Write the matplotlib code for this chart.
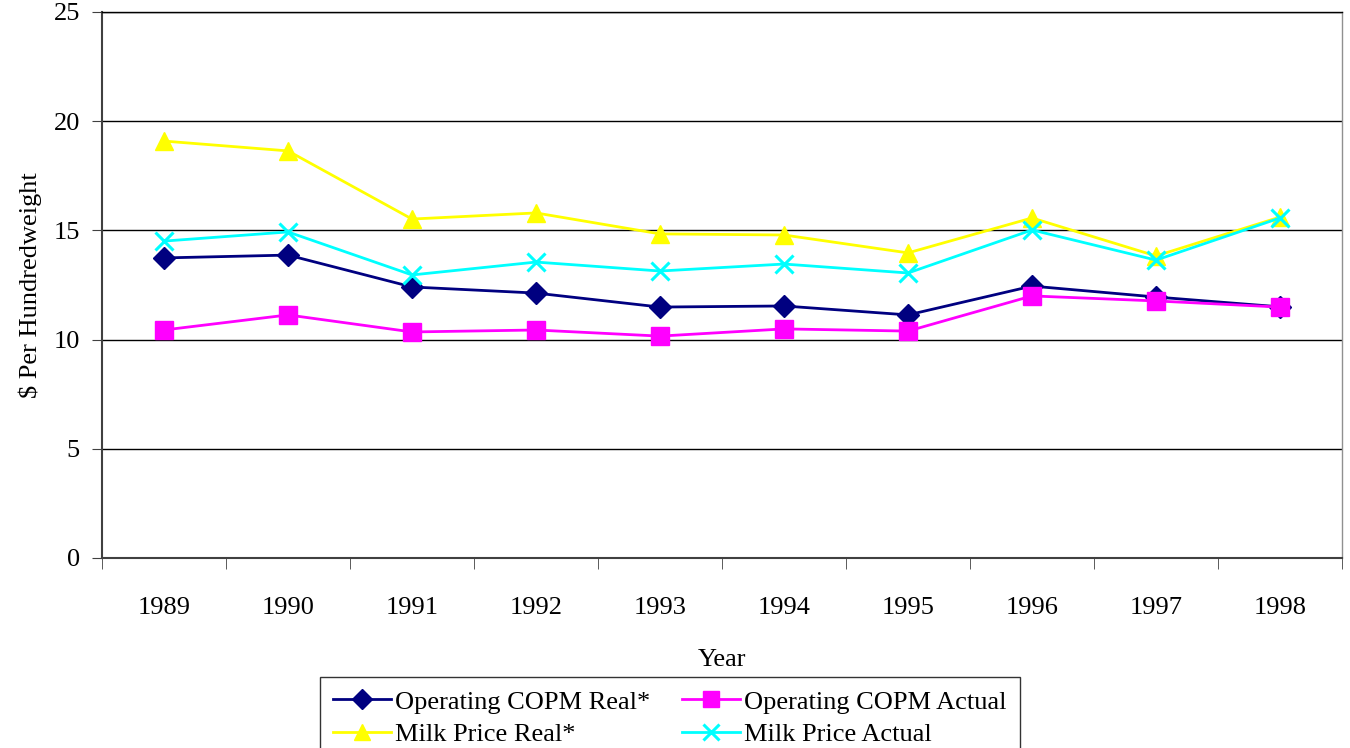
import numpy as np
import matplotlib.pyplot as plt

years = ["1989", "1990", "1991", "1992", "1993", "1994", "1995", "1996", "1997", "1998"]
copm_real = [13.74, 13.87, 12.41, 12.13, 11.49, 11.54, 11.13, 12.45, 11.95, 11.50]
copm_actual = [10.44, 11.13, 10.35, 10.44, 10.16, 10.49, 10.39, 12.00, 11.77, 11.49]
milk_real = [19.09, 18.64, 15.52, 15.80, 14.84, 14.79, 13.97, 15.57, 13.83, 15.61]
milk_actual = [14.51, 14.93, 12.96, 13.55, 13.14, 13.46, 13.05, 15.02, 13.64, 15.57]

plt.rcParams['font.family'] = ['Liberation Serif', 'DejaVu Serif']
fs = 19

fig = plt.figure(figsize=(13.5, 7.48), dpi=100)
ax = fig.add_axes([102 / 1350, 1 - 558 / 748, 1240 / 1350, 546 / 748])

x = np.arange(len(years))
l1, = ax.plot(x, copm_real, color='#000080', marker='D', markersize=11, lw=2, label='Operating COPM Real*', zorder=3)
l2, = ax.plot(x, copm_actual, color='#FF00FF', marker='s', markersize=13, lw=2, label='Operating COPM Actual', zorder=3)
l3, = ax.plot(x, milk_real, color='#FFFF00', marker='^', markersize=13, lw=2, label='Milk Price Real*', zorder=3)
l4, = ax.plot(x, milk_actual, color='#00FFFF', marker='x', markersize=13, mew=2.2, lw=2, label='Milk Price Actual', zorder=3)

ax.set_xlim(-0.5, len(years) - 0.5)
ax.set_ylim(0, 25)
ax.set_yticks(range(0, 26, 5))
ax.set_xticks(x)
ax.set_xticklabels(years)
ax.set_xticks(np.arange(-0.5, len(years)), minor=True)
ax.tick_params(axis='x', which='major', length=0, pad=28, labelsize=fs)
ax.tick_params(axis='x', which='minor', length=8, direction='out', color='#404040')
ax.tick_params(axis='y', length=7, direction='out', labelsize=fs, pad=9, color='#404040')
ax.yaxis.grid(True, color='black', lw=1)
ax.set_axisbelow(True)

for side in ['left', 'bottom']:
    ax.spines[side].set_color('#404040')
    ax.spines[side].set_linewidth(1.5)
ax.spines['top'].set_color('black')
ax.spines['top'].set_linewidth(1)
ax.spines['right'].set_color('#909090')
ax.spines['right'].set_linewidth(1)

ax.set_xlabel('Year', fontsize=fs, labelpad=22)
ax.set_ylabel('$ Per Hundredweight', fontsize=fs, labelpad=8)

# row-wise order like the original legend
fig.legend([l1, l3, l2, l4], [l.get_label() for l in (l1, l3, l2, l4)],
           loc='upper center', bbox_to_anchor=(670 / 1350, 1 - 677 / 748), ncol=2,
           fontsize=fs, frameon=True, fancybox=False, edgecolor='black',
           handlelength=2.2, borderpad=0.5, labelspacing=0.35, columnspacing=1.2,
           handletextpad=0.15, borderaxespad=0, markerscale=0.9)

fig.savefig('out.png', dpi=100)
